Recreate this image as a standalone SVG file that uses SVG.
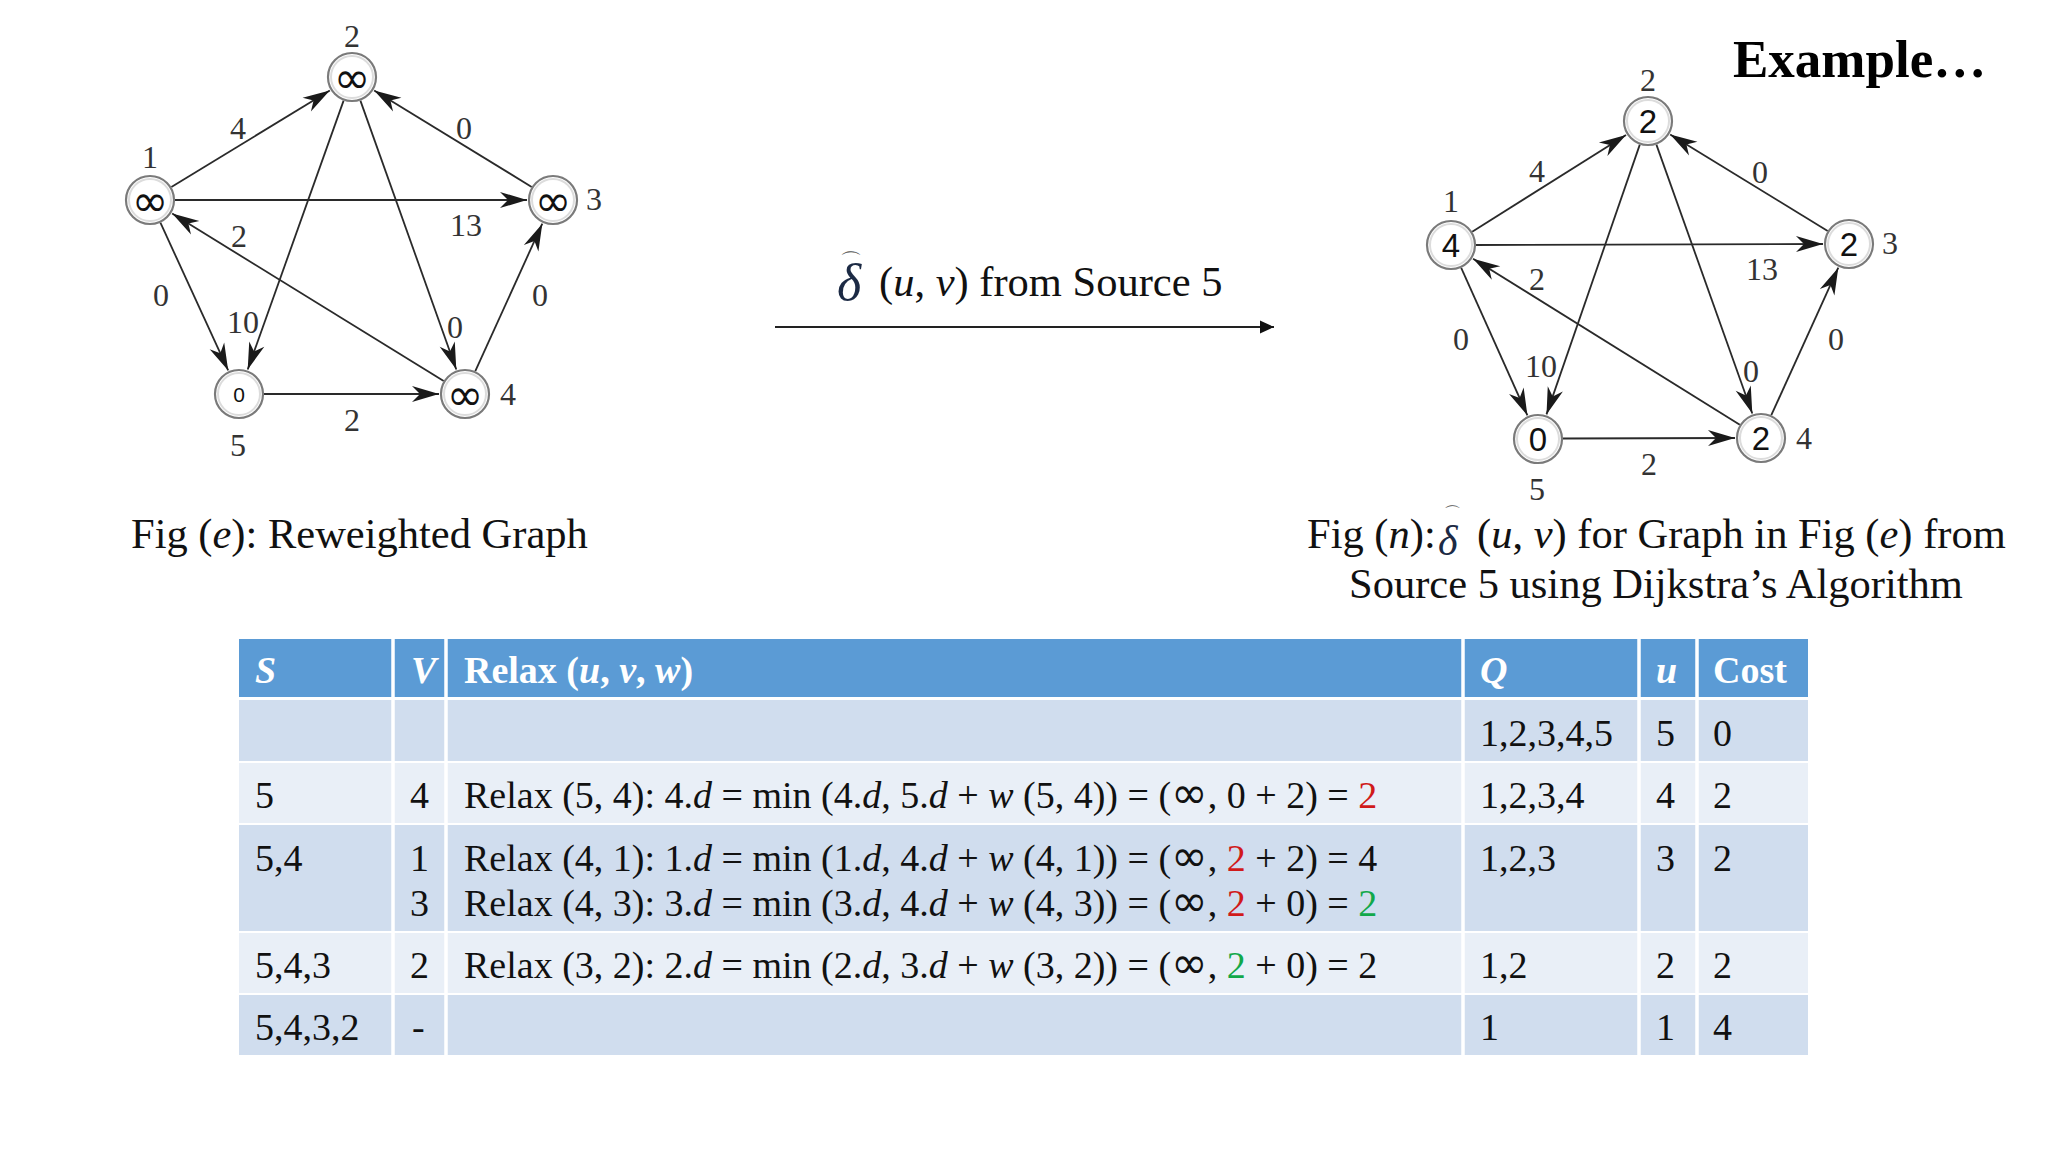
<svg xmlns="http://www.w3.org/2000/svg" width="2048" height="1152" viewBox="0 0 2048 1152">
<defs>
<style>
.edge{stroke:#2a2a2a;stroke-width:1.8;fill:none;marker-end:url(#barb)}
.node circle.o{fill:#fff;stroke:#7a7a7a;stroke-width:2.2}
.node circle.i{fill:none;stroke:#dcdcdc;stroke-width:2}
.lbl{font-family:"Liberation Serif",serif;font-size:32px;fill:#333;text-anchor:middle}
.val{font-family:"DejaVu Sans",sans-serif;font-size:44px;fill:#111;text-anchor:middle;dominant-baseline:central}
.rval{font-family:"Liberation Sans",sans-serif;font-size:33px;fill:#111;text-anchor:middle;dominant-baseline:central}
.cap{font-family:"Liberation Serif",serif;font-size:42.5px;fill:#111}
.th{font-family:"Liberation Serif",serif;font-size:38px;font-weight:bold;fill:#fff}
.td{font-family:"Liberation Serif",serif;font-size:38px;fill:#111}
.it{font-style:italic}
.inf{font-family:"DejaVu Sans",sans-serif;font-size:44px}
.red{fill:#d01a1a}
.grn{fill:#12a84a}
.sep{stroke:#fff;stroke-width:3.5}
.hat{font-family:"DejaVu Sans",sans-serif;font-style:normal;fill:#555}
</style>
<marker id="barb" markerUnits="userSpaceOnUse" viewBox="-28 -9 30 18" refX="0" refY="0" markerWidth="30" markerHeight="18" orient="auto">
<path d="M0,0 L-27,-8 L-19,0 L-27,8 Z" fill="#1a1a1a"/>
</marker>
<marker id="tri" markerUnits="userSpaceOnUse" viewBox="-15 -7 16 14" refX="0" refY="0" markerWidth="16" markerHeight="14" orient="auto">
<path d="M0,0 L-14,-6.5 L-14,6.5 Z" fill="#111"/>
</marker>
</defs>
<rect width="2048" height="1152" fill="#fff"/>

<!-- Left graph: Fig (e) -->
<g id="left-connectors">
<line class="edge" x1="171.4" y1="187" x2="329.8" y2="90.5"/>
<line class="edge" x1="531.7" y1="186.9" x2="374.2" y2="90.6"/>
<line class="edge" x1="175" y1="200" x2="527" y2="200"/>
<line class="edge" x1="343.6" y1="100.6" x2="247.7" y2="369.5"/>
<line class="edge" x1="360.4" y1="100.6" x2="456.3" y2="369.5"/>
<line class="edge" x1="443.7" y1="380.9" x2="172.2" y2="213.6"/>
<line class="edge" x1="160.4" y1="222.7" x2="228.2" y2="370.4"/>
<line class="edge" x1="264" y1="394" x2="439" y2="394"/>
<line class="edge" x1="475.3" y1="371.2" x2="542.3" y2="223.7"/>
<text class="lbl" x="238" y="139">4</text>
<text class="lbl" x="464" y="139">0</text>
<text class="lbl" x="466" y="236">13</text>
<text class="lbl" x="239" y="247">2</text>
<text class="lbl" x="161" y="306">0</text>
<text class="lbl" x="243" y="333">10</text>
<text class="lbl" x="455" y="338">0</text>
<text class="lbl" x="540" y="306">0</text>
<text class="lbl" x="352" y="431">2</text>
</g>
<g id="left-node-1" class="node"><circle class="o" cx="150" cy="200" r="24"/><circle class="i" cx="150" cy="200" r="21"/><text class="val" x="150" y="200">∞</text><text class="lbl" x="150" y="168">1</text></g>
<g id="left-node-2" class="node"><circle class="o" cx="352" cy="77" r="24"/><circle class="i" cx="352" cy="77" r="21"/><text class="val" x="352" y="77">∞</text><text class="lbl" x="352" y="47">2</text></g>
<g id="left-node-3" class="node"><circle class="o" cx="553" cy="200" r="24"/><circle class="i" cx="553" cy="200" r="21"/><text class="val" x="553" y="200">∞</text><text class="lbl" x="594" y="210">3</text></g>
<g id="left-node-4" class="node"><circle class="o" cx="465" cy="394" r="24"/><circle class="i" cx="465" cy="394" r="21"/><text class="val" x="465" y="394">∞</text><text class="lbl" x="508" y="405">4</text></g>
<g id="left-node-5" class="node"><circle class="o" cx="239" cy="394" r="24"/><circle class="i" cx="239" cy="394" r="21"/><text class="val" x="239" y="394" style="font-family:'Liberation Sans',sans-serif;font-size:21px">0</text><text class="lbl" x="238" y="456">5</text></g>

<text class="cap" x="131" y="548">Fig (<tspan class="it">e</tspan>): Reweighted Graph</text>

<!-- Middle arrow -->
<g id="middle-label">
<text x="837" y="300" style="font-family:'Liberation Serif',serif;font-size:52px;font-style:italic;fill:#1c2a44">δ<tspan class="hat" dx="-21" dy="-31" style="font-size:22px">⌒</tspan></text>
<text class="cap" x="879" y="296">(<tspan class="it">u</tspan>, <tspan class="it">v</tspan>) from Source 5</text>
</g>
<g id="middle-connector">
<line x1="775" y1="327" x2="1274" y2="327" stroke="#222" stroke-width="1.8" marker-end="url(#tri)"/>
</g>

<!-- Title -->
<text x="1733" y="77" style="font-family:'Liberation Serif',serif;font-size:53px;font-weight:bold;fill:#000">Example…</text>

<!-- Right graph: Fig (n) -->
<g transform="translate(1296,44)">
<g id="right-connectors">
<line class="edge" x1="176.2" y1="187.7" x2="330" y2="90.9"/>
<line class="edge" x1="531.7" y1="186.9" x2="374.2" y2="90.6"/>
<line class="edge" x1="180" y1="201" x2="527" y2="200"/>
<line class="edge" x1="343.8" y1="100.6" x2="250.5" y2="370.4"/>
<line class="edge" x1="360.4" y1="100.6" x2="456.3" y2="369.5"/>
<line class="edge" x1="443.8" y1="380.8" x2="177.1" y2="214.7"/>
<line class="edge" x1="165.2" y1="223.8" x2="231.4" y2="371.3"/>
<line class="edge" x1="267" y1="394.5" x2="439" y2="394"/>
<line class="edge" x1="475.3" y1="371.2" x2="542.3" y2="223.7"/>
<text class="lbl" x="241" y="138">4</text>
<text class="lbl" x="464" y="139">0</text>
<text class="lbl" x="466" y="236">13</text>
<text class="lbl" x="241" y="246">2</text>
<text class="lbl" x="165" y="306">0</text>
<text class="lbl" x="245" y="333">10</text>
<text class="lbl" x="455" y="338">0</text>
<text class="lbl" x="540" y="306">0</text>
<text class="lbl" x="353" y="431">2</text>
</g>
<g id="right-node-1" class="node"><circle class="o" cx="155" cy="201" r="24"/><circle class="i" cx="155" cy="201" r="21"/><text class="rval" x="155" y="201">4</text><text class="lbl" x="155" y="168">1</text></g>
<g id="right-node-2" class="node"><circle class="o" cx="352" cy="77" r="24"/><circle class="i" cx="352" cy="77" r="21"/><text class="rval" x="352" y="77">2</text><text class="lbl" x="352" y="47">2</text></g>
<g id="right-node-3" class="node"><circle class="o" cx="553" cy="200" r="24"/><circle class="i" cx="553" cy="200" r="21"/><text class="rval" x="553" y="200">2</text><text class="lbl" x="594" y="210">3</text></g>
<g id="right-node-4" class="node"><circle class="o" cx="465" cy="394" r="24"/><circle class="i" cx="465" cy="394" r="21"/><text class="rval" x="465" y="394">2</text><text class="lbl" x="508" y="405">4</text></g>
<g id="right-node-5" class="node"><circle class="o" cx="242" cy="395" r="24"/><circle class="i" cx="242" cy="395" r="21"/><text class="rval" x="242" y="395">0</text><text class="lbl" x="241" y="456">5</text></g>
</g>

<g id="right-caption">
<text class="cap" x="1307" y="548">Fig (<tspan class="it">n</tspan>):</text>
<text x="1438" y="555" style="font-family:'Liberation Serif',serif;font-size:42px;font-style:italic;fill:#1c2a44">δ<tspan class="hat" dx="-14" dy="-36" style="font-size:17px">⌒</tspan></text>
<text class="cap" x="1477" y="548"> (<tspan class="it">u</tspan>, <tspan class="it">v</tspan>) for Graph in Fig (<tspan class="it">e</tspan>) from</text>
<text class="cap" x="1656" y="598" text-anchor="middle">Source 5 using Dijkstra’s Algorithm</text>
</g>

<!-- Table -->
<g id="table">
<rect x="239" y="639" width="1569" height="58" fill="#5b9bd5"/>
<rect x="239" y="700" width="1569" height="61" fill="#d0ddee"/>
<rect x="239" y="763" width="1569" height="60" fill="#e9eff7"/>
<rect x="239" y="825" width="1569" height="106" fill="#d0ddee"/>
<rect x="239" y="933" width="1569" height="60" fill="#e9eff7"/>
<rect x="239" y="995" width="1569" height="60" fill="#d0ddee"/>
<line class="sep" x1="393" y1="639" x2="393" y2="1055"/>
<line class="sep" x1="446" y1="639" x2="446" y2="1055"/>
<line class="sep" x1="1463" y1="639" x2="1463" y2="1055"/>
<line class="sep" x1="1639" y1="639" x2="1639" y2="1055"/>
<line class="sep" x1="1697" y1="639" x2="1697" y2="1055"/>

<text class="th it" x="255" y="683">S</text>
<text class="th it" x="411" y="683">V</text>
<text class="th" x="464" y="683">Relax (<tspan class="it">u</tspan>, <tspan class="it">v</tspan>, <tspan class="it">w</tspan>)</text>
<text class="th it" x="1480" y="683">Q</text>
<text class="th it" x="1656" y="683">u</text>
<text class="th" x="1713" y="683">Cost</text>

<text class="td" x="1480" y="746">1,2,3,4,5</text>
<text class="td" x="1656" y="746">5</text>
<text class="td" x="1713" y="746">0</text>

<text class="td" x="255" y="808">5</text>
<text class="td" x="410" y="808">4</text>
<text class="td" x="464" y="808">Relax (5, 4): 4.<tspan class="it">d</tspan> = min (4.<tspan class="it">d</tspan>, 5.<tspan class="it">d</tspan> + <tspan class="it">w</tspan> (5, 4)) = (<tspan class="inf">∞</tspan>, 0 + 2) = <tspan class="red">2</tspan></text>
<text class="td" x="1480" y="808">1,2,3,4</text>
<text class="td" x="1656" y="808">4</text>
<text class="td" x="1713" y="808">2</text>

<text class="td" x="255" y="871">5,4</text>
<text class="td" x="410" y="871">1</text>
<text class="td" x="464" y="871">Relax (4, 1): 1.<tspan class="it">d</tspan> = min (1.<tspan class="it">d</tspan>, 4.<tspan class="it">d</tspan> + <tspan class="it">w</tspan> (4, 1)) = (<tspan class="inf">∞</tspan>, <tspan class="red">2</tspan> + 2) = 4</text>
<text class="td" x="1480" y="871">1,2,3</text>
<text class="td" x="1656" y="871">3</text>
<text class="td" x="1713" y="871">2</text>
<text class="td" x="410" y="916">3</text>
<text class="td" x="464" y="916">Relax (4, 3): 3.<tspan class="it">d</tspan> = min (3.<tspan class="it">d</tspan>, 4.<tspan class="it">d</tspan> + <tspan class="it">w</tspan> (4, 3)) = (<tspan class="inf">∞</tspan>, <tspan class="red">2</tspan> + 0) = <tspan class="grn">2</tspan></text>

<text class="td" x="255" y="978">5,4,3</text>
<text class="td" x="410" y="978">2</text>
<text class="td" x="464" y="978">Relax (3, 2): 2.<tspan class="it">d</tspan> = min (2.<tspan class="it">d</tspan>, 3.<tspan class="it">d</tspan> + <tspan class="it">w</tspan> (3, 2)) = (<tspan class="inf">∞</tspan>, <tspan class="grn">2</tspan> + 0) = 2</text>
<text class="td" x="1480" y="978">1,2</text>
<text class="td" x="1656" y="978">2</text>
<text class="td" x="1713" y="978">2</text>

<text class="td" x="255" y="1040">5,4,3,2</text>
<text class="td" x="412" y="1040">-</text>
<text class="td" x="1480" y="1040">1</text>
<text class="td" x="1656" y="1040">1</text>
<text class="td" x="1713" y="1040">4</text>
</g>
</svg>
